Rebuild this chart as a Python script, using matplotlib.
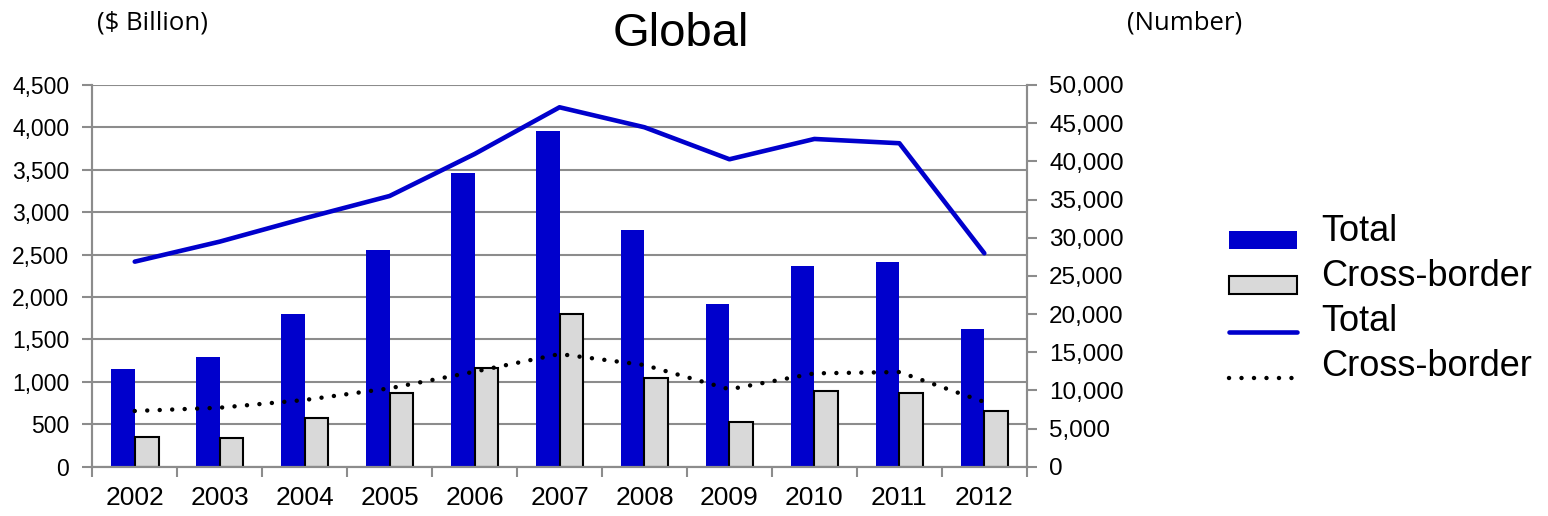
import numpy as np
import matplotlib
matplotlib.use("Agg")
import matplotlib.pyplot as plt
from matplotlib.ticker import StrMethodFormatter, FixedLocator
from matplotlib.transforms import ScaledTranslation

plt.rcParams['font.family'] = ['Liberation Sans', 'DejaVu Sans']

years = ["2002", "2003", "2004", "2005", "2006", "2007", "2008", "2009", "2010", "2011", "2012"]

# value in $ billion (bars, left axis)
value_total = [1152, 1297, 1800, 2551, 3463, 3958, 2794, 1918, 2366, 2413, 1620]
value_cross = [347, 342, 578, 865, 1160, 1797, 1049, 531, 896, 865, 660]

# number of deals (lines, right axis)
number_total = [26860, 29480, 32540, 35460, 40960, 47080, 44460, 40270, 42930, 42370, 27960]
number_cross = [7300, 7730, 8740, 10270, 12450, 14760, 13320, 10140, 12230, 12400, 8480]

blue = "#0000CC"
grey = "#D9D9D9"
gridc = "#8C8C8C"

fig = plt.figure(figsize=(15.48, 5.16), dpi=100)
ax = fig.add_axes([0.0596, 0.0955, 0.6037, 0.7398])
ax2 = ax.twinx()

x = np.arange(len(years))
w = 0.28

# bars
b1 = ax.bar(x - w / 2, value_total, w, color=blue, label="Total", zorder=2)
b2 = ax.bar(x + w / 2, value_cross, w, color=grey, edgecolor="black", linewidth=1.5,
            label="Cross-border", zorder=2)

# lines
l1, = ax2.plot(x, number_total, color=blue, lw=3.3, solid_capstyle="round",
               solid_joinstyle="round", label="Total")
l2, = ax2.plot(x, number_cross, color="black", lw=3.2, linestyle=(0, (0.01, 2.8)),
               dash_capstyle="round", label="Cross-border")

ax.set_xlim(-0.5, len(years) - 0.5)
ax.set_ylim(0, 4500)
ax2.set_ylim(0, 50000)
ax.set_yticks(np.arange(0, 4501, 500))
ax2.set_yticks(np.arange(0, 50001, 5000))
ax.yaxis.set_major_formatter(StrMethodFormatter("{x:,.0f}"))
ax2.yaxis.set_major_formatter(StrMethodFormatter("{x:,.0f}"))

ax.set_xticks(x)
ax.set_xticklabels(years)
ax.xaxis.set_minor_locator(FixedLocator(np.arange(-0.5, len(years), 1.0)))
ax.tick_params(axis="x", which="major", length=0, labelsize=19, pad=14)
ax.tick_params(axis="x", which="minor", length=7, width=1.5, color=gridc)
ax.tick_params(axis="y", length=7, width=1.5, color=gridc, labelsize=16.5, pad=9.5)
ax2.tick_params(axis="y", length=7, width=1.5, color=gridc, labelsize=17.5, pad=9)

ax.grid(axis="y", color=gridc, lw=1.5)
ax.set_axisbelow(True)

for a in (ax, ax2):
    a.spines["top"].set_visible(False)
    for s in ("left", "right", "bottom"):
        a.spines[s].set_color(gridc)
        a.spines[s].set_linewidth(1.5)

fig.text(0.44, 0.935, "Global", fontsize=34, ha="center", va="center")
fig.text(0.0625, 0.956, "($ Billion)", fontsize=18.5, family=["Open Sans", "DejaVu Sans"],
         ha="left", va="center")
fig.text(0.728, 0.956, "(Number)", fontsize=18.5, family=["Open Sans", "DejaVu Sans"],
         ha="left", va="center")

leg = fig.legend([b1, b2, l1, l2], ["Total", "Cross-border", "Total", "Cross-border"],
                 loc="center left", bbox_to_anchor=(0.7845, 0.397), frameon=False,
                 fontsize=26, handlelength=1.9, handleheight=0.36, labelspacing=0.28,
                 handletextpad=0.65, borderaxespad=0)
# texts sit a little above their keys, as in the source chart
for t in leg.get_texts():
    t.set_transform(t.get_transform() + ScaledTranslation(0, 12 / 100, fig.dpi_scale_trans))

fig.savefig("out.png", dpi=100)
